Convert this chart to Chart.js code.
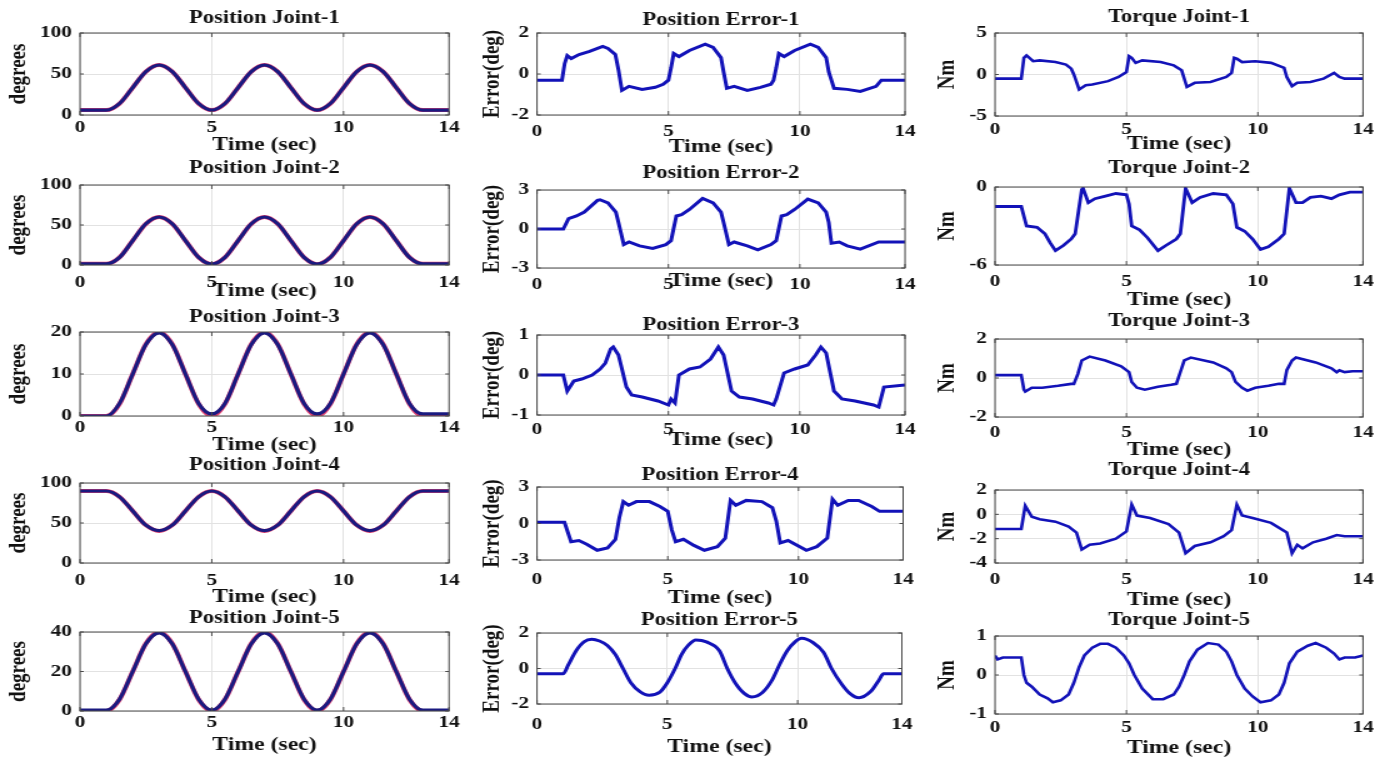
<!DOCTYPE html>
<html>
<head>
<meta charset="utf-8">
<script src="https://cdn.jsdelivr.net/npm/chart.js@4.4.1/dist/chart.umd.min.js"></script>
<style>
  body { margin: 0; background: #fff; width: 1390px; height: 763px; overflow: hidden; position: relative; }
  canvas { position: absolute; transform-origin: 0 0; transform: scaleX(1.25); }
</style>
</head>
<body>
<script>
// ---- data ----
const xTicks = [0, 5, 10, 14];

// joint positions, sampled every 0.5 s
const tPos = [0,0.5,1,1.5,2,2.5,3,3.5,4,4.5,5,5.5,6,6.5,7,7.5,8,8.5,9,9.5,10,10.5,11,11.5,12,12.5,13,13.5,14];
const posJ1 = [6,6,6,14,33.5,53,61,53,33.5,14,6,14,33.5,53,61,53,33.5,14,6,14,33.5,53,61,53,33.5,14,6,6,6];
const refJ1 = [6,6,6,14,33.5,53,61,53,33.5,14,6,14,33.5,53,61,53,33.5,14,6,14,33.5,53,61,53,33.5,14,6,6,6];
const posJ2 = [1.5,1.5,1.5,9.5,30.5,51.5,60,51.5,30.5,9.5,1,9.5,30.5,51.5,60,51.5,30.5,9.5,1,9.5,30.5,51.5,60,51.5,30.5,9.5,1.5,1.5,1.5];
const refJ2 = [1.5,1.5,1.5,9.5,30.5,51.5,60,51.5,30.5,9.5,1,9.5,30.5,51.5,60,51.5,30.5,9.5,1,9.5,30.5,51.5,60,51.5,30.5,9.5,1.5,1.5,1.5];
const posJ3 = [0,0,0,3,10,17,19.8,17,10,3,0.5,3,10,17,19.8,17,10,3,0.5,3,10,17,19.8,17,10,3,0.5,0.5,0.5];
const refJ3 = [0,0,0,2.9,10,17.1,20,17.1,10,2.9,0,2.9,10,17.1,20,17.1,10,2.9,0,2.9,10,17.1,20,17.1,10,2.9,0,0,0];
const posJ4 = [90,90,90,82.7,65,47.3,40.5,47.3,65,82.7,90,82.7,65,47.3,40.5,47.3,65,82.7,90,82.7,65,47.3,40.5,47.3,65,82.7,90,90,90];
const refJ4 = [90,90,90,82.7,65,47.3,40,47.3,65,82.7,90,82.7,65,47.3,40,47.3,65,82.7,90,82.7,65,47.3,40,47.3,65,82.7,90,90,90];
const posJ5 = [0.5,0.5,0.5,6,20,34,39.6,34,20,6,0.5,6,20,34,39.6,34,20,6,0.5,6,20,34,39.6,34,20,6,0.5,0.5,0.5];
const refJ5 = [0,0,0,5.8,20,34.2,40,34.2,20,5.8,0,5.8,20,34.2,40,34.2,20,5.8,0,5.8,20,34.2,40,34.2,20,5.8,0,0,0];

// position errors
const e1T = [0,0.95,1.05,1.15,1.3,1.6,2.0,2.5,2.7,2.98,3.1,3.23,3.5,4.0,4.5,4.8,5.0,5.1,5.2,5.4,5.8,6.4,6.7,7.0,7.1,7.22,7.5,8.0,8.5,8.9,9.0,9.1,9.2,9.4,9.8,10.4,10.7,11.0,11.1,11.3,11.8,12.3,12.9,13.1,14];
const e1V = [-0.3,-0.3,0.5,0.9,0.75,0.95,1.1,1.35,1.25,0.95,0.2,-0.8,-0.6,-0.75,-0.65,-0.5,-0.3,0.3,1.0,0.85,1.15,1.45,1.3,0.8,0.1,-0.7,-0.6,-0.8,-0.65,-0.5,-0.3,0.3,1.0,0.85,1.15,1.45,1.3,0.8,0.1,-0.7,-0.75,-0.85,-0.6,-0.3,-0.3];
const e2T = [0,1.0,1.2,1.5,1.8,2.3,2.4,2.7,3.0,3.1,3.3,3.5,3.9,4.4,4.9,5.1,5.3,5.5,5.8,6.3,6.7,7.0,7.1,7.3,7.5,8.0,8.4,8.9,9.1,9.3,9.5,9.8,10.3,10.7,11.0,11.1,11.2,11.5,11.8,12.3,13.0,14];
const e2V = [0,0,0.8,1.0,1.3,2.2,2.25,2.0,1.3,0.5,-1.2,-1.0,-1.3,-1.5,-1.2,-0.9,1.0,1.1,1.5,2.35,2.0,1.3,0.5,-1.2,-1.0,-1.3,-1.6,-1.2,-0.9,1.0,1.1,1.5,2.3,2.0,1.3,0.5,-1.1,-1.0,-1.3,-1.55,-1.0,-1.0];
const e3T = [0,1.0,1.15,1.4,1.7,2.1,2.4,2.6,2.8,2.9,3.1,3.4,3.6,4.0,4.6,5.0,5.1,5.25,5.4,5.8,6.2,6.6,6.9,7.1,7.4,7.7,8.2,8.8,9.0,9.1,9.4,9.8,10.3,10.6,10.8,11.0,11.3,11.6,12.1,12.8,13.0,13.2,14];
const e3V = [0,0,-0.4,-0.15,-0.1,0,0.15,0.3,0.65,0.7,0.5,-0.3,-0.5,-0.55,-0.65,-0.75,-0.6,-0.7,0,0.15,0.2,0.4,0.7,0.5,-0.4,-0.55,-0.6,-0.7,-0.75,-0.6,0.05,0.15,0.25,0.5,0.7,0.55,-0.4,-0.6,-0.65,-0.75,-0.8,-0.3,-0.25];
const e4T = [0,1.05,1.3,1.6,1.9,2.3,2.7,3.0,3.15,3.3,3.5,3.8,4.3,4.7,5.0,5.15,5.3,5.6,6.0,6.4,6.9,7.2,7.4,7.6,8.0,8.6,9.0,9.15,9.3,9.6,10.3,10.7,11.1,11.3,11.5,11.9,12.3,12.8,13.1,14];
const e4V = [0.1,0.1,-1.5,-1.4,-1.7,-2.2,-2.0,-1.3,0.5,1.8,1.5,1.8,1.8,1.4,1.0,-0.5,-1.5,-1.3,-1.8,-2.2,-1.9,-1.2,1.9,1.5,1.9,1.8,1.3,0.2,-1.6,-1.4,-2.2,-1.9,-1.2,2.0,1.5,1.9,1.9,1.4,1.0,1.0];
const e5T = [0,1.0,1.2,1.5,1.8,2.1,2.4,2.7,3.0,3.3,3.6,3.95,4.3,4.7,5.0,5.3,5.55,5.8,6.1,6.5,7.0,7.3,7.6,7.95,8.25,8.65,9.0,9.3,9.6,9.9,10.15,10.6,11.0,11.3,11.7,12.0,12.35,12.8,13.1,13.3,14];
const e5V = [-0.3,-0.3,0.2,1.0,1.5,1.65,1.55,1.3,0.8,0,-0.8,-1.3,-1.5,-1.35,-0.8,0,0.8,1.3,1.6,1.5,1.0,0,-0.8,-1.4,-1.6,-1.35,-0.7,0.2,1.0,1.5,1.7,1.45,0.9,0,-0.9,-1.4,-1.65,-1.3,-0.7,-0.3,-0.3];

// joint torques
const q1T = [0,1.0,1.1,1.2,1.45,1.7,2.3,2.7,2.9,3.0,3.2,3.45,3.7,4.3,4.7,5.0,5.1,5.2,5.35,5.6,6.3,6.8,7.1,7.3,7.6,8.2,8.8,9.0,9.1,9.2,9.4,9.9,10.5,11.0,11.1,11.3,11.5,12.0,12.5,12.9,13.1,13.3,14];
const q1V = [-0.5,-0.5,2.0,2.3,1.6,1.7,1.5,1.2,0.7,0,-1.8,-1.3,-1.2,-0.8,-0.3,0.3,2.2,2.0,1.4,1.7,1.5,1.1,0.5,-1.5,-1.0,-0.9,-0.3,0.2,2.0,1.9,1.5,1.6,1.4,0.8,-0.3,-1.4,-1.0,-0.9,-0.5,0.2,-0.3,-0.5,-0.5];
const q2T = [0,1.0,1.2,1.6,1.9,2.1,2.3,2.6,2.9,3.05,3.3,3.35,3.55,3.8,4.2,4.6,5.0,5.1,5.2,5.5,5.8,6.2,6.5,6.9,7.05,7.25,7.5,7.8,8.3,8.8,9.05,9.2,9.5,9.8,10.1,10.4,10.8,11.0,11.2,11.45,11.7,12.0,12.4,12.8,13.1,13.5,14];
const q2V = [-1.5,-1.5,-3.0,-3.1,-3.6,-4.3,-4.9,-4.5,-4.0,-3.6,-0.2,-0.1,-1.2,-0.9,-0.7,-0.5,-0.6,-1.3,-3.0,-3.3,-3.9,-4.9,-4.5,-4.0,-3.6,-0.1,-1.2,-0.8,-0.5,-0.6,-1.3,-3.1,-3.4,-4.0,-4.8,-4.6,-4.0,-3.6,-0.1,-1.2,-1.2,-0.8,-0.7,-0.9,-0.6,-0.4,-0.4];
const q3T = [0,1.0,1.1,1.15,1.4,1.8,2.4,2.9,3.0,3.15,3.3,3.6,4.2,4.8,5.1,5.2,5.4,5.7,6.2,6.7,6.9,7.1,7.2,7.45,8.3,8.8,9.0,9.15,9.4,9.6,9.9,10.4,10.8,11.0,11.1,11.3,11.45,12.2,12.8,13.0,13.1,13.3,13.6,14];
const q3V = [0.15,0.15,-0.6,-0.7,-0.5,-0.5,-0.4,-0.3,-0.3,0.2,0.9,1.1,0.9,0.6,0.3,-0.2,-0.5,-0.6,-0.45,-0.35,-0.3,0.5,0.9,1.05,0.8,0.5,0.3,-0.2,-0.5,-0.65,-0.5,-0.4,-0.3,-0.3,0.4,0.9,1.05,0.8,0.5,0.3,0.4,0.3,0.35,0.35];
const q4T = [0,1.0,1.15,1.4,1.7,2.3,2.8,3.1,3.3,3.6,4.0,4.6,5.0,5.2,5.4,5.9,6.6,7.0,7.25,7.6,8.2,8.7,9.0,9.2,9.4,9.8,10.5,11.1,11.3,11.5,11.7,12.1,12.6,13.0,13.3,14];
const q4V = [-1.2,-1.2,0.7,-0.2,-0.4,-0.6,-1.0,-1.5,-2.9,-2.5,-2.4,-2.0,-1.4,0.8,-0.1,-0.3,-0.8,-1.5,-3.2,-2.6,-2.3,-1.8,-1.3,0.8,-0.1,-0.3,-0.7,-1.5,-3.2,-2.5,-2.8,-2.3,-2.0,-1.7,-1.8,-1.8];
const q5T = [0,0.1,0.3,1.0,1.1,1.2,1.4,1.7,2.0,2.2,2.5,2.8,3.0,3.2,3.4,3.7,4.0,4.3,4.6,4.9,5.1,5.3,5.6,6.0,6.4,6.8,7.0,7.2,7.4,7.7,8.1,8.5,8.8,9.0,9.2,9.5,9.8,10.1,10.5,10.8,11.0,11.2,11.5,11.9,12.2,12.6,12.9,13.1,13.3,13.7,14];
const q5V = [0.5,0.4,0.45,0.45,0.0,-0.2,-0.3,-0.5,-0.6,-0.7,-0.65,-0.5,-0.2,0.2,0.5,0.7,0.8,0.8,0.7,0.5,0.3,0.0,-0.35,-0.62,-0.62,-0.5,-0.3,0.0,0.35,0.65,0.82,0.78,0.6,0.35,0.0,-0.35,-0.55,-0.7,-0.65,-0.5,-0.2,0.3,0.6,0.75,0.82,0.7,0.55,0.4,0.45,0.45,0.5];

// y tick labels per panel
const yPos1 = [0, 50, 100], yPos2 = [0, 50, 100], yPos3 = [0, 10, 20], yPos4 = [0, 50, 100], yPos5 = [0, 20, 40];
const yErr1 = [-2, 0, 2], yErr2 = [-3, 0, 3], yErr3 = [-1, 0, 1], yErr4 = [-3, 0, 3], yErr5 = [-2, 0, 2];
const yTq1 = [-5, 0, 5], yTq2 = [-6, 0], yTq3 = [-2, 0, 2], yTq4 = [-4, -2, 0, 2], yTq5 = [-1, 0, 1];

// ---- page layout ----
const SX = 1.25; // the figure is stretched sideways
const colBox = [
    { left: 0, plotLeft: 80, plotRight: 449, yLabelX: 19 },
    { left: 460, plotLeft: 537, plotRight: 905, yLabelX: 492 },
    { left: 920, plotLeft: 995, plotRight: 1363, yLabelX: 948 }
];
// plotTop, plotBottom, title gap, tick gap, x label gap
const rowBox = [
    [[33, 115, 15, 13, 30], [33, 115, 13, 17, 32], [33, 116, 16, 14, 28]],
    [[185, 265, 17, 18, 26], [190, 268, 17, 17, 13], [187, 265, 19, 17, 35]],
    [[332, 416, 15, 12, 29], [335, 415, 10, 15, 25], [339, 417, 18, 16, 33]],
    [[483, 563, 18, 18, 34], [487, 560, 12, 20, 38], [490, 563, 20, 17, 37]],
    [[632, 711, 14, 12, 34], [633, 704, 13, 21, 43], [636, 714, 16, 14, 34]]
];

const NAVY = "#1a1a80", RED = "#e2416f", BLUE = "#1212b8", GRID = "#e2e2e2", INK = "#111";

Chart.defaults.font.family = "'Liberation Serif', 'Times New Roman', serif";
Chart.defaults.font.weight = "bold";
Chart.defaults.color = INK;

function pts(T, V) {
    return T.map((t, i) => ({ x: t, y: V[i] }));
}

function line(data, color, width, smooth) {
    return {
        data: data,
        borderColor: color,
        borderWidth: width,
        pointRadius: 0,
        fill: false,
        tension: 0,
        cubicInterpolationMode: smooth ? "monotone" : "default"
    };
}

function posSets(actual, desired) {
    return [line(pts(tPos, actual), NAVY, 3.2, true), line(pts(tPos, desired), RED, 4, true)];
}

const panels = [
    { title: "Position Joint-1", yLabel: "degrees", yTicks: yPos1, sets: posSets(posJ1, refJ1) },
    { title: "Position Error-1", yLabel: "Error(deg)", yTicks: yErr1, sets: [line(pts(e1T, e1V), BLUE, 3)] },
    { title: "Torque Joint-1", yLabel: "Nm", yTicks: yTq1, sets: [line(pts(q1T, q1V), BLUE, 2.6)] },
    { title: "Position Joint-2", yLabel: "degrees", yTicks: yPos2, sets: posSets(posJ2, refJ2) },
    { title: "Position Error-2", yLabel: "Error(deg)", yTicks: yErr2, sets: [line(pts(e2T, e2V), BLUE, 3)] },
    { title: "Torque Joint-2", yLabel: "Nm", yTicks: yTq2, sets: [line(pts(q2T, q2V), BLUE, 2.8)] },
    { title: "Position Joint-3", yLabel: "degrees", yTicks: yPos3, sets: posSets(posJ3, refJ3) },
    { title: "Position Error-3", yLabel: "Error(deg)", yTicks: yErr3, sets: [line(pts(e3T, e3V), BLUE, 3)] },
    { title: "Torque Joint-3", yLabel: "Nm", yTicks: yTq3, sets: [line(pts(q3T, q3V), BLUE, 2.6)] },
    { title: "Position Joint-4", yLabel: "degrees", yTicks: yPos4, sets: posSets(posJ4, refJ4) },
    { title: "Position Error-4", yLabel: "Error(deg)", yTicks: yErr4, sets: [line(pts(e4T, e4V), BLUE, 3)] },
    { title: "Torque Joint-4", yLabel: "Nm", yTicks: yTq4, sets: [line(pts(q4T, q4V), BLUE, 2.6)] },
    { title: "Position Joint-5", yLabel: "degrees", yTicks: yPos5, sets: posSets(posJ5, refJ5) },
    { title: "Position Error-5", yLabel: "Error(deg)", yTicks: yErr5, sets: [line(pts(e5T, e5V), BLUE, 3, true)] },
    { title: "Torque Joint-5", yLabel: "Nm", yTicks: yTq5, sets: [line(pts(q5T, q5V), BLUE, 2.6)] }
];

// box round the plot with small inward ticks, matlab style
const frame = {
    id: "frame",
    afterDraw(chart) {
        const { ctx, chartArea: a, scales } = chart;
        ctx.save();
        ctx.strokeStyle = "#4a4a4a";
        ctx.lineWidth = 1;
        ctx.strokeRect(a.left, a.top, a.right - a.left, a.bottom - a.top);
        ctx.beginPath();
        scales.x.ticks.forEach(t => {
            const px = scales.x.getPixelForValue(t.value);
            ctx.moveTo(px, a.bottom); ctx.lineTo(px, a.bottom - 4);
            ctx.moveTo(px, a.top); ctx.lineTo(px, a.top + 4);
        });
        scales.y.ticks.forEach(t => {
            const py = scales.y.getPixelForValue(t.value);
            ctx.moveTo(a.left, py); ctx.lineTo(a.left + 3, py);
            ctx.moveTo(a.right, py); ctx.lineTo(a.right - 3, py);
        });
        ctx.stroke();
        ctx.restore();
    }
};

panels.forEach((p, k) => {
    const col = colBox[k % 3];
    const [pTop, pBot, tGap, tkGap, xlGap] = rowBox[Math.floor(k / 3)][k % 3];
    const yW = (col.plotLeft - col.left) / SX;
    const plotRightIn = (col.plotRight - col.left) / SX;
    const W = Math.ceil(plotRightIn + 18);
    const titleH = tGap + 10;
    const xH = xlGap + 10;
    const padBottom = 14;
    const H = titleH + (pBot - pTop) + xH + padBottom;

    const cv = document.createElement("canvas");
    cv.width = W;
    cv.height = H;
    cv.style.left = col.left + "px";
    cv.style.top = (pTop - titleH) + "px";
    document.body.appendChild(cv);

    new Chart(cv, {
        type: "line",
        data: { datasets: p.sets },
        options: {
            responsive: false,
            animation: false,
            events: [],
            layout: { padding: { left: 0, top: 0, right: W - plotRightIn, bottom: padBottom } },
            plugins: {
                legend: { display: false },
                tooltip: { enabled: false },
                title: {
                    display: true,
                    text: p.title,
                    fullSize: false,
                    color: INK,
                    font: { size: 18, weight: "bold", lineHeight: "20px" },
                    padding: { top: 0, bottom: tGap - 10 }
                }
            },
            scales: {
                x: {
                    type: "linear",
                    min: 0,
                    max: 14,
                    afterBuildTicks: s => { s.ticks = xTicks.map(v => ({ value: v })); },
                    afterFit: s => { s.height = xH; },
                    grid: { color: GRID, drawTicks: false },
                    border: { display: false },
                    ticks: {
                        padding: tkGap - 9,
                        maxRotation: 0,
                        autoSkip: false,
                        color: INK,
                        font: { size: 17, weight: "bold", lineHeight: "18px" },
                        callback: v => String(v)
                    },
                    title: {
                        display: true,
                        text: "Time (sec)",
                        color: INK,
                        font: { size: 19, weight: "bold", lineHeight: "20px" },
                        padding: { top: 0, bottom: 0 }
                    }
                },
                y: {
                    type: "linear",
                    min: p.yTicks[0],
                    max: p.yTicks[p.yTicks.length - 1],
                    afterBuildTicks: s => { s.ticks = p.yTicks.map(v => ({ value: v })); },
                    afterFit: s => { s.width = yW; },
                    grid: { color: GRID, drawTicks: false },
                    border: { display: false },
                    ticks: {
                        padding: 8 / SX,
                        color: INK,
                        font: { size: 17, weight: "bold", lineHeight: "18px" },
                        callback: v => String(v)
                    },
                    title: {
                        display: true,
                        text: p.yLabel,
                        color: INK,
                        font: { size: 19, weight: "bold", lineHeight: "20px" },
                        padding: { top: (col.yLabelX - col.left) / SX - 10, bottom: 0 }
                    }
                }
            }
        },
        plugins: [frame]
    });
});
</script>
</body>
</html>
